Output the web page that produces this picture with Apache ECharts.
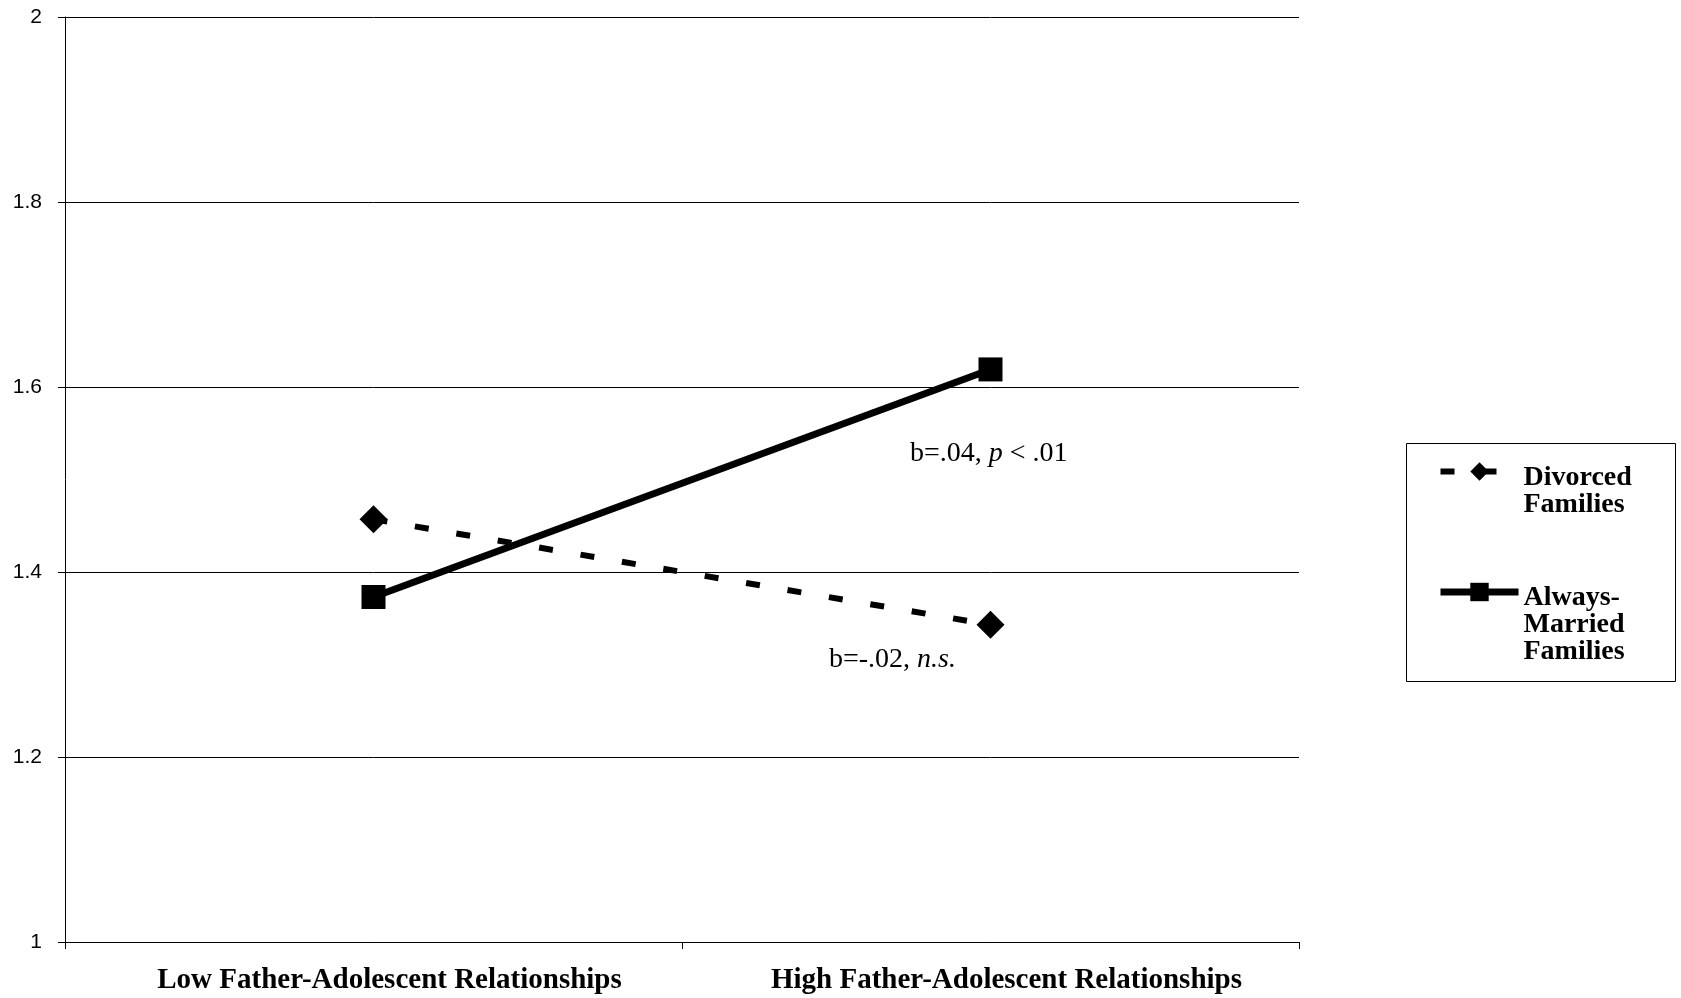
<!DOCTYPE html>
<html>
<head>
<meta charset="utf-8">
<style>
  html, body { margin: 0; padding: 0; background: #fff; }
  #chart { width: 1681px; height: 998px; }
</style>
<script src="https://cdn.jsdelivr.net/npm/echarts@6/dist/echarts.min.js"></script>
</head>
<body>
<div id="chart"></div>
<script>
const categories = ['Low Father-Adolescent Relationships', 'High Father-Adolescent Relationships'];
const divorcedValues = [1.457, 1.343];
const marriedValues = [1.373, 1.619];
const seriesNames = ['Divorced Families', 'Always-Married Families'];
const legendLabels = [['Divorced', 'Families'], ['Always-', 'Married', 'Families']];
const yMin = 1, yMax = 2, yStep = 0.2;

const serif = '"Liberation Serif", "Times New Roman", serif';
const LH = 27;

const chart = echarts.init(document.getElementById('chart'), null, { renderer: 'canvas' });

chart.setOption({
  backgroundColor: '#ffffff',
  animation: false,
  grid: { left: 65, right: 382, top: 17, bottom: 56, containLabel: false },
  xAxis: {
    type: 'category',
    data: categories,
    boundaryGap: true,
    axisLine: { show: true, lineStyle: { color: '#000', width: 1 } },
    axisTick: { show: true, length: 7, alignWithLabel: false, lineStyle: { color: '#000' } },
    axisLabel: {
      margin: 24,
      color: '#000',
      fontFamily: serif,
      fontWeight: 'bold',
      fontSize: 29,
      padding: [0, 0, 0, 32]
    },
    splitLine: { show: false }
  },
  yAxis: {
    type: 'value',
    min: yMin, max: yMax, interval: yStep,
    axisLine: { show: true, lineStyle: { color: '#000', width: 1 } },
    axisTick: { show: true, length: 7, lineStyle: { color: '#000' } },
    axisLabel: {
      margin: 23,
      color: '#000',
      fontFamily: '"Liberation Sans", Arial, sans-serif',
      fontSize: 21
    },
    splitLine: { show: true, lineStyle: { color: '#000', width: 1 } }
  },
  legend: {
    orient: 'vertical',
    left: 1437,
    top: 425,
    padding: 0,
    itemGap: 0,
    itemWidth: 78,
    itemHeight: 23,
    selectedMode: false,
    data: [
      {
        name: seriesNames[0],
        lineStyle: { color: '#000', width: 6, type: [14, 28] }
      },
      {
        name: seriesNames[1],
        lineStyle: { color: '#000', width: 7, type: 'solid' }
      }
    ],
    formatter: function (name) {
      const i = seriesNames.indexOf(name);
      const lead = i === 0 ? '{s1| }' : '{s2| }';
      return [lead].concat(legendLabels[i].map(function (t) { return '{t|' + t + '}'; })).join('\n');
    },
    textStyle: {
      color: '#000',
      fontFamily: serif,
      fontWeight: 'bold',
      fontSize: 28,
      lineHeight: LH,
      rich: {
        t: { fontFamily: serif, fontWeight: 'bold', fontSize: 28, lineHeight: LH, color: '#000' },
        s1: { fontSize: 10, lineHeight: 39 },
        s2: { fontSize: 10, lineHeight: 66 }
      }
    }
  },
  series: [
    {
      name: seriesNames[0],
      type: 'line',
      data: divorcedValues,
      symbol: 'diamond',
      symbolSize: 28,
      lineStyle: { color: '#000', width: 6, type: [14, 28] },
      itemStyle: { color: '#000' },
      z: 3
    },
    {
      name: seriesNames[1],
      type: 'line',
      data: marriedValues,
      symbol: 'rect',
      symbolSize: 24,
      lineStyle: { color: '#000', width: 7, type: 'solid' },
      itemStyle: { color: '#000' },
      z: 4
    }
  ],
  graphic: [
    {
      type: 'rect',
      left: 1404, top: 441,
      shape: { width: 269, height: 238 },
      style: { fill: 'none', stroke: '#000', lineWidth: 1 },
      silent: true
    },
    {
      type: 'text',
      left: 910, top: 440,
      style: {
        text: '{a|b=.04, }{i|p}{a| < .01}',
        rich: {
          a: { fontFamily: serif, fontSize: 28, fill: '#000' },
          i: { fontFamily: serif, fontSize: 28, fontStyle: 'italic', fill: '#000' }
        }
      }
    },
    {
      type: 'text',
      left: 829, top: 646,
      style: {
        text: '{a|b=-.02, }{i|n.s.}',
        rich: {
          a: { fontFamily: serif, fontSize: 28, fill: '#000' },
          i: { fontFamily: serif, fontSize: 28, fontStyle: 'italic', fill: '#000' }
        }
      }
    }
  ]
});
</script>
</body>
</html>
